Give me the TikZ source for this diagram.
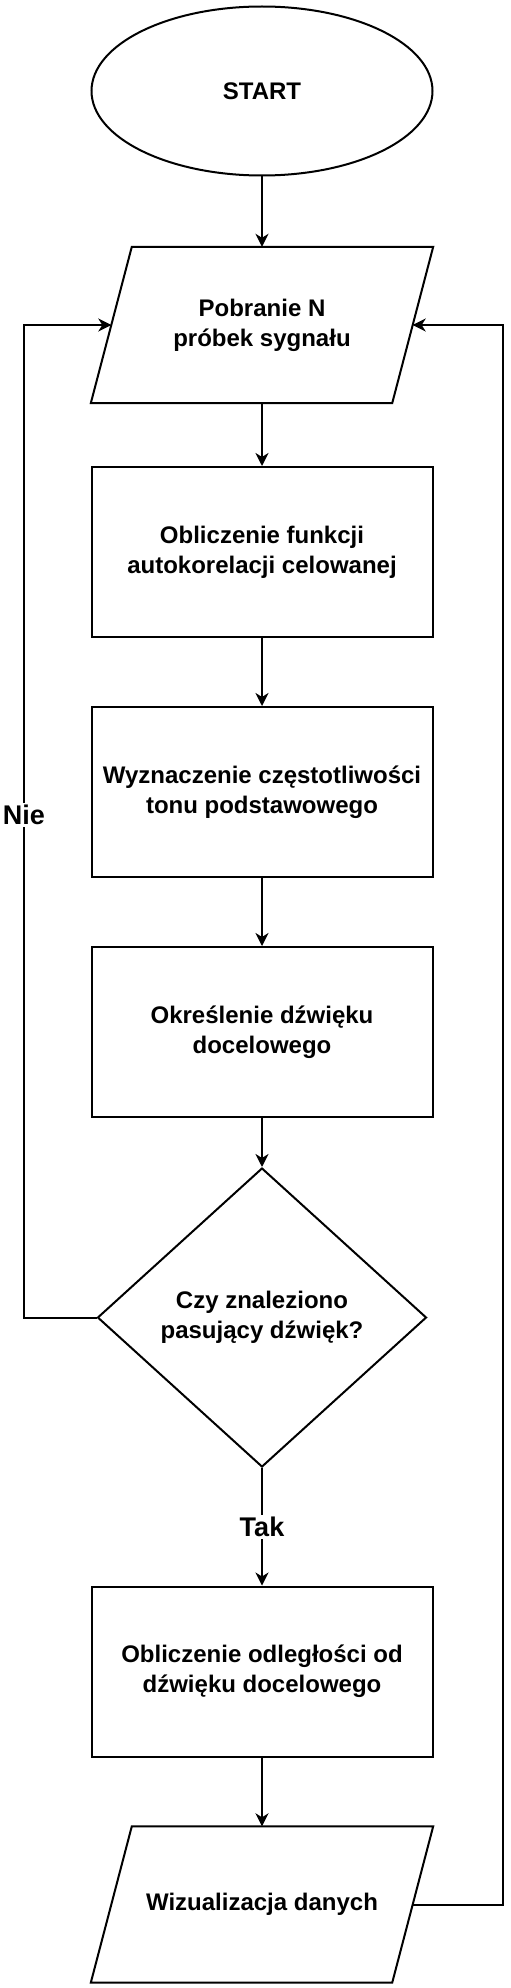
\documentclass[tikz,border=0pt]{standalone}
\usepackage{fontspec}
\setmainfont{Liberation Sans}
\usetikzlibrary{shapes.geometric,arrows.meta}
\begin{document}
\begin{tikzpicture}[x=1pt,y=-1pt,
  every node/.style={font=\bfseries\fontsize{24}{30}\selectfont, align=center},
  base/.style={draw=black, line width=2pt, inner sep=0pt},
  term/.style={base, ellipse, minimum width=341pt, minimum height=169pt},
  proc/.style={base, rectangle, minimum width=341pt, minimum height=170pt},
  io/.style={rectangle, inner sep=0pt, minimum width=301pt, minimum height=156pt},
  dec/.style={base, diamond, minimum width=329pt, minimum height=299pt},
  arr/.style={line width=2pt, -{Stealth[length=13pt,width=13pt,inset=4pt]}},
  lbl/.style={fill=white, inner sep=2pt, font=\bfseries\fontsize{27}{30}\selectfont}
]
\useasboundingbox (0,0) rectangle (511,1988);
\node[term] (start) at (262,91) {START};
\node[io] (p1) at (262,325) {Pobranie N\\próbek sygnału};
\node[proc] (r1) at (262,552) {Obliczenie funkcji\\autokorelacji celowanej};
\node[proc] (r2) at (262,792) {Wyznaczenie częstotliwości\\tonu podstawowego};
\node[proc] (r3) at (262,1032) {Określenie dźwięku\\docelowego};
\node[dec] (d) at (262,1317.5) {Czy znaleziono\\pasujący dźwięk?};
\node[proc] (r4) at (262,1671.5) {Obliczenie odległości od\\dźwięku docelowego};
\node[io] (p2) at (262,1904.5) {Wizualizacja danych};
\foreach \p in {p1,p2}{
  \draw[base, line join=miter] ([xshift=20.5pt]\p.north west) -- ([xshift=20.5pt]\p.north east)
    -- ([xshift=-20.5pt]\p.south east) -- ([xshift=-20.5pt]\p.south west) -- cycle;
}
\coordinate (lnw) at (24,325);
\coordinate (rnw) at (503,325);
\draw[arr] (start) -- (p1);
\draw[arr] (p1) -- (r1);
\draw[arr] (r1) -- (r2);
\draw[arr] (r2) -- (r3);
\draw[arr] (r3) -- (d);
\draw[arr] (d) -- node[lbl, pos=0.5] (tak) {Tak} (r4);
\draw[arr] (r4) -- (p2);
\draw[arr] (d.west) -| (lnw) -- (p1.west);
\draw[arr] (p2.east) -| (rnw) -- (p1.east);
\node[lbl] (nie) at (24,815) {Nie};
\end{tikzpicture}
\end{document}
